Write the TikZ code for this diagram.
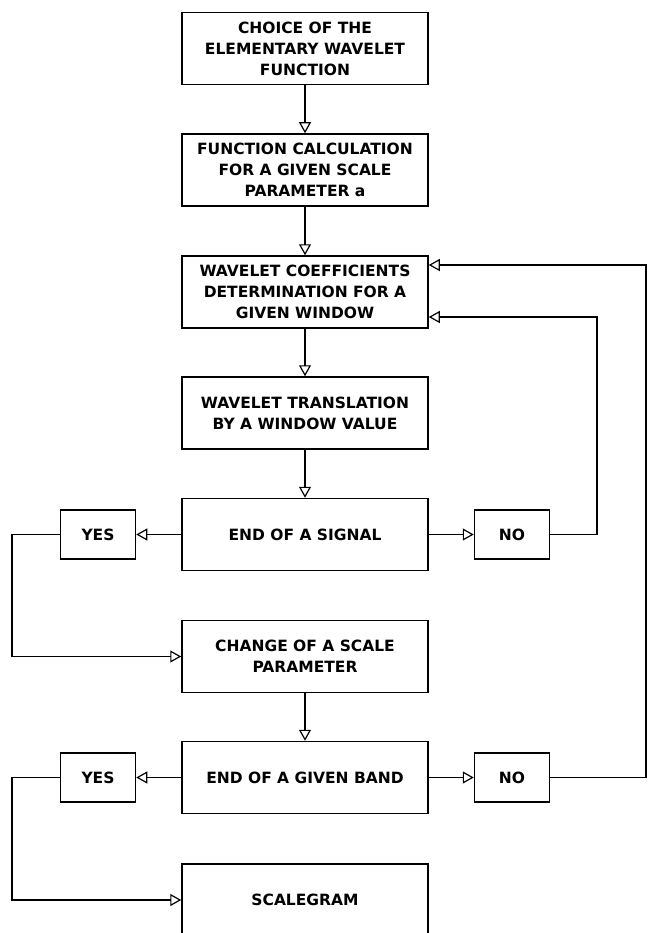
\documentclass[tikz,border=0pt]{standalone}
\usepackage{fontspec}
\setmainfont{DejaVu Sans}
\usetikzlibrary{arrows.meta}
\begin{document}
\begin{tikzpicture}[x=1pt, y=-1pt, line width=1.5pt,
  stepbox/.style={draw, minimum width=246pt, minimum height=72pt, inner sep=0pt, align=center,
    font=\bfseries\fontsize{15.5}{21}\selectfont},
  answer/.style={draw, minimum width=75pt, minimum height=49pt, inner sep=0pt,
    font=\bfseries\fontsize{15.5}{21}\selectfont},
  >={Triangle[open, length=11pt, width=12pt, line width=1.2pt]}]
\useasboundingbox (0,0) rectangle (647,933);
\node[stepbox] (choice) at (305,48.5) {CHOICE OF THE\\ELEMENTARY WAVELET\\FUNCTION};
\node[stepbox] (calc) at (305,170) {FUNCTION CALCULATION\\FOR A GIVEN SCALE\\PARAMETER a};
\node[stepbox] (coef) at (305,292) {WAVELET COEFFICIENTS\\DETERMINATION FOR A\\GIVEN WINDOW};
\node[stepbox] (shift) at (305,413) {WAVELET TRANSLATION\\BY A WINDOW VALUE};
\node[stepbox] (endsig) at (305,534.5) {END OF A SIGNAL};
\node[answer] (yes1) at (98,534.5) {YES};
\node[answer] (no1) at (512,534.5) {NO};
\node[stepbox] (change) at (305,656.5) {CHANGE OF A SCALE\\PARAMETER};
\node[stepbox] (endband) at (305,777.5) {END OF A GIVEN BAND};
\node[answer] (yes2) at (98,777.5) {YES};
\node[answer] (no2) at (512,777.5) {NO};
\node[stepbox] (gram) at (305,900) {SCALEGRAM};
% main line
\draw[->] (choice) -- (calc);
\draw[->] (calc) -- (coef);
\draw[->] (coef) -- (shift);
\draw[->] (shift) -- (endsig);
\draw[->] (endsig) -- (yes1);
\draw[->] (endsig) -- (no1);
\draw[->] (change) -- (endband);
\draw[->] (endband) -- (yes2);
\draw[->] (endband) -- (no2);
% loops
\draw[->] (yes1.west) -- (12,534.5) |- (change.west);
\draw[->] (yes2.west) -- (12,777.5) |- (gram.west);
\draw[->] (no1.east) -- (597,534.5) -- (597,317) -- ([yshift=-25pt]coef.east);
\draw[->] (no2.east) -- (646,777.5) -- (646,265) -- ([yshift=27pt]coef.east);
\end{tikzpicture}
\end{document}
